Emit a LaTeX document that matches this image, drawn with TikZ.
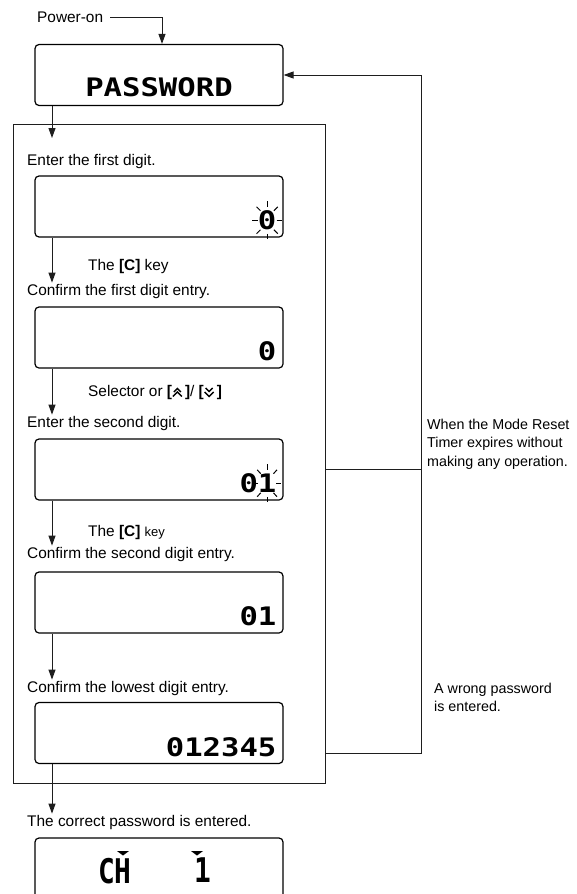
\documentclass[tikz,border=0pt]{standalone}
\usepackage{fontspec}
\setmainfont{Liberation Sans}
\newfontfamily\lcdfont[FakeStretch=1.2]{DejaVu Sans Mono Bold}
\newfontfamily\lcdtall[FakeStretch=0.82]{DejaVu Sans Mono Bold}
\usepackage{tikz}
\usetikzlibrary{arrows.meta,positioning,calc}
\usepackage{xcolor}
\definecolor{linegray}{RGB}{30,30,30}
\newcommand{\keyup}{\tikz[baseline=0pt,x=1pt,y=1pt]\draw[line width=1.4pt] (1,5)--(4.5,8.5)--(8,5) (0,0.5)--(4.5,5)--(9,0.5);}
\newcommand{\keydn}{\tikz[baseline=0pt,x=1pt,y=1pt]\draw[line width=1.4pt] (1,9)--(4.5,5.5)--(8,9) (0,5)--(4.5,0.5)--(9,5);}
\tikzset{
  lcd/.style={rectangle, rounded corners=4pt, draw=black, line width=1.2pt,
              minimum width=248pt, minimum height=61pt},
  lcdtext/.style={inner sep=0pt, font=\fontsize{25.5}{26}\lcdfont},
  lcdbig/.style={inner sep=0pt, font=\fontsize{34}{34}\lcdtall},
  txt/.style={anchor=west, inner sep=2pt, font=\fontsize{15.4}{18}\selectfont},
  note/.style={anchor=west, align=left, inner sep=2pt, font=\fontsize{14.3}{18.5}\selectfont},
  arrow/.style={-{Triangle[length=10pt,width=7pt]}, line width=1pt, linegray},
  wire/.style={line width=1pt, linegray},
  ray/.style={line width=1pt, black},
}
\begin{document}
\begin{tikzpicture}[x=1pt,y=-1pt]
\useasboundingbox (0,0) rectangle (577,894);
\clip (0,0) rectangle (577,894);
\node[draw=linegray, line width=1pt, minimum width=312pt, minimum height=659pt, inner sep=0pt] (frame) at (169,453.5) {};
\node[txt] (pwr) at (35,17) {Power-on};
\node[lcd] (pw) at (159,75) {};
\node[lcdtext, anchor=south] (pwt) at ([yshift=9pt]pw.south) {PASSWORD};
\node[txt] (l1) at (25,162) {Enter the first digit.};
\node[lcd] (b1) at (159,206.5) {};
\node[lcdtext, anchor=south east] (d1) at ([xshift=-7pt,yshift=7.5pt]b1.south east) {0};
\node[txt] (k1) at (86,267) {The \textbf{[C]} key};
\node[txt] (l2) at (25,292) {Confirm the first digit entry.};
\node[lcd] (b2) at (159,337.5) {};
\node[lcdtext, anchor=south east] (d2) at ([xshift=-7pt,yshift=7.5pt]b2.south east) {0};
\node[txt] (k2) at (86,393) {Selector or \textbf{[}\keyup\,\textbf{]}/ \textbf{[}\keydn\,\textbf{]}};
\node[txt] (l3) at (25,424) {Enter the second digit.};
\node[lcd] (b3) at (159,469.5) {};
\node[lcdtext, anchor=south east] (d3) at ([xshift=-7pt,yshift=7.5pt]b3.south east) {01};
\node[txt] (k3) at (86,533) {The \textbf{[C]} {\fontsize{13}{15}\selectfont key}};
\node[txt] (l4) at (25,555) {Confirm the second digit entry.};
\node[lcd] (b4) at (159,602.5) {};
\node[lcdtext, anchor=south east] (d4) at ([xshift=-7pt,yshift=7.5pt]b4.south east) {01};
\node[txt] (l5) at (25,689) {Confirm the lowest digit entry.};
\node[lcd] (b5) at (159,733) {};
\node[lcdtext, anchor=south east] (d5) at ([xshift=-7pt,yshift=7.5pt]b5.south east) {012345};
\node[txt] (l6) at (25,823) {The correct password is entered.};
\node[lcd] (b6) at (159,868.5) {};
\node[lcdbig, anchor=north] (ch) at (115,858) {CH};
\node[lcdbig, anchor=north] (chn) at (203,858) {1};
\fill (117,851) -- (129,851) -- (123,855.5) -- cycle;
\fill (191,851) -- (203,851) -- (197,855.5) -- cycle;
\node[note] (r1) at (425,444) {When the Mode Reset\\Timer expires without\\making any operation.};
\node[note] (r2) at (432,697.5) {A wrong password\\is entered.};
\foreach \a in {0,45,...,315}
  \draw[ray] ($(d1.center)+(\a:9.5 and 13.5)$) -- ($(d1.center)+(\a:15 and 19)$);
\foreach \a in {0,45,...,315}
  \draw[ray] ($(d3.east)+(-9.5,0)+(\a:9 and 13.5)$) -- ($(d3.east)+(-9.5,0)+(\a:14 and 19)$);
\coordinate (ax) at (52,0);
\coordinate (t0) at (52,138);
\coordinate (lp) at (421,75);
\coordinate (wr) at (421,753);
\draw[arrow, shorten <=5pt] (pwr.east) -| ([xshift=3pt]pw.north);
\draw[arrow] (pw.south -| ax) -- (t0);
\draw[arrow] (b1.south -| ax) -- (l2.north -| ax);
\draw[arrow] (b2.south -| ax) -- (l3.north -| ax);
\draw[arrow] (b3.south -| ax) -- (l4.north -| ax);
\draw[arrow] (b4.south -| ax) -- (l5.north -| ax);
\draw[arrow] (b5.south -| ax) -- (l6.north -| ax);
\draw[wire] (frame.east |- b3) -- (b3 -| lp);
\draw[arrow] (frame.east |- wr) -- (wr) -- (lp) -- (pw.east);
\end{tikzpicture}
\end{document}
